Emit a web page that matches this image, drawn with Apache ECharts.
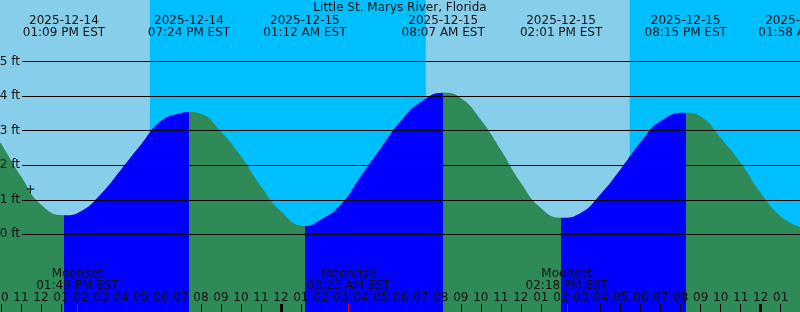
<!DOCTYPE html>
<html><head><meta charset="utf-8">
<script src="https://cdn.jsdelivr.net/npm/echarts@6/dist/echarts.min.js"></script>
<style>html,body{margin:0;padding:0;background:#87CEEB}#c{width:800px;height:312px}</style>
</head><body><div id="c"></div>
<script>
const TITLE = 'Little St. Marys River, Florida';
const curveTimes = [
 '2025-12-14 09:57','2025-12-14 10:00','2025-12-14 11:00','2025-12-14 12:00','2025-12-14 13:09',
 '2025-12-14 14:00','2025-12-14 15:00','2025-12-14 16:00','2025-12-14 17:00','2025-12-14 18:00','2025-12-14 19:00',
 '2025-12-14 19:24','2025-12-14 20:00','2025-12-14 21:00','2025-12-14 22:00','2025-12-14 23:00','2025-12-15 00:00',
 '2025-12-15 01:12','2025-12-15 02:00','2025-12-15 03:00','2025-12-15 04:00','2025-12-15 05:00',
 '2025-12-15 06:00','2025-12-15 07:00','2025-12-15 08:07','2025-12-15 09:00','2025-12-15 10:00',
 '2025-12-15 11:00','2025-12-15 12:00','2025-12-15 13:00','2025-12-15 14:01','2025-12-15 15:00','2025-12-15 16:00',
 '2025-12-15 17:00','2025-12-15 18:00','2025-12-15 19:00','2025-12-15 20:15','2025-12-15 21:00',
 '2025-12-15 22:00','2025-12-15 23:00','2025-12-16 00:00','2025-12-16 01:00','2025-12-16 01:58'];
const curveFeet = [
 2.65, 2.63, 1.68, 0.86, 0.55,
 0.67, 1.17, 1.87, 2.60, 3.28, 3.51,
 3.54, 3.49, 2.97, 2.26, 1.39, 0.67,
 0.24, 0.42, 0.86, 1.68, 2.50,
 3.28, 3.83, 4.10, 3.95, 3.32,
 2.45, 1.49, 0.76, 0.48, 0.62, 1.17,
 1.89, 2.67, 3.28, 3.52, 3.41,
 2.79, 2.07, 1.20, 0.52, 0.20];
const extremeTimes = ['2025-12-14 13:09','2025-12-14 19:24','2025-12-15 01:12','2025-12-15 08:07','2025-12-15 14:01','2025-12-15 20:15','2025-12-16 01:58'];
const extremeKinds = ['low','high','low','high','low','high','low'];
const nightStarts = ['2025-12-14 17:27','2025-12-15 17:27'];
const nightEnds   = ['2025-12-15 07:15','2025-12-16 01:58'];
const moonTimes = ['2025-12-14 13:49','2025-12-15 03:23','2025-12-15 14:18'];
const moonEvents = ['Moonset','Moonrise','Moonset'];
const midnights = ['2025-12-15 00:00','2025-12-16 00:00'];
const hourTicks = [
 '2025-12-14 10:00','2025-12-14 11:00','2025-12-14 12:00','2025-12-14 13:00','2025-12-14 14:00','2025-12-14 15:00','2025-12-14 16:00',
 '2025-12-14 17:00','2025-12-14 18:00','2025-12-14 19:00','2025-12-14 20:00','2025-12-14 21:00','2025-12-14 22:00','2025-12-14 23:00',
 '2025-12-15 00:00','2025-12-15 01:00','2025-12-15 02:00','2025-12-15 03:00','2025-12-15 04:00','2025-12-15 05:00','2025-12-15 06:00',
 '2025-12-15 07:00','2025-12-15 08:00','2025-12-15 09:00','2025-12-15 10:00','2025-12-15 11:00','2025-12-15 12:00','2025-12-15 13:00',
 '2025-12-15 14:00','2025-12-15 15:00','2025-12-15 16:00','2025-12-15 17:00','2025-12-15 18:00','2025-12-15 19:00','2025-12-15 20:00',
 '2025-12-15 21:00','2025-12-15 22:00','2025-12-15 23:00','2025-12-16 00:00','2025-12-16 01:00'];
const feetTicks = [0, 1, 2, 3, 4, 5];
const nowTime = '2025-12-14 11:28';
const nowFeet = 1.31;
const X_MIN = '2025-12-14 09:57', X_MAX = '2025-12-16 01:58';
const Y_MIN = -2.251, Y_MAX = 6.787;

const FONT = 'DejaVu Sans';
const TXT = '#111';
const GREEN = '#2E8B57', BLUE = '#0000FF', NIGHT = '#00BFFF', DAY = '#87CEEB';

function ms(s){const [d,t]=s.split(' ');const [Y,M,D]=d.split('-').map(Number);const [h,m]=t.split(':').map(Number);return Date.UTC(Y,M-1,D,h,m);}
const p2 = n => (n<10?'0':'')+n;
function hh12(v){const d=new Date(v);const h=d.getUTCHours()%12||12;return p2(h);}
function timeLbl(v){const d=new Date(v);const h=d.getUTCHours();return p2(h%12||12)+':'+p2(d.getUTCMinutes())+(h<12?' AM':' PM')+' EST';}
function dateLbl(v){const d=new Date(v);return d.getUTCFullYear()+'-'+p2(d.getUTCMonth()+1)+'-'+p2(d.getUTCDate());}

const xmin = ms(X_MIN), xmax = ms(X_MAX);
const ext = extremeTimes.map(ms);
const pieces = [{lt: ext[0], color: extremeKinds[0]==='low' ? GREEN : BLUE}];
for (let i=0;i<ext.length;i++){
  const p = {gte: ext[i], color: extremeKinds[i]==='low' ? BLUE : GREEN};
  if (i+1<ext.length) p.lt = ext[i+1];
  pieces.push(p);
}
const moonMs = moonTimes.map(ms);
const txt = {fontFamily: FONT, fontSize: 12, color: TXT};
const baseX = {type:'value', min:xmin, max:xmax, gridIndex:0, z:10, splitLine:{show:false},
  axisLine:{show:false, onZero:false}};

const option = {
  animation:false,
  backgroundColor: DAY,
  title:{text:TITLE, left:'center', top:2, padding:0, textStyle:Object.assign({fontWeight:'normal'}, txt)},
  grid:[{left:0,right:0,top:0,bottom:0,outerBoundsMode:'none',containLabel:false},
        {left:22,right:0,top:0,bottom:0,outerBoundsMode:'none',containLabel:false}],
  xAxis:[
    Object.assign({}, baseX, {position:'bottom',
      axisTick:{show:true, inside:true, length:8, customValues:hourTicks.map(ms), lineStyle:{color:'#000', width:1}},
      axisLabel:Object.assign({inside:true, margin:8, customValues:hourTicks.map(ms), formatter:hh12}, txt)}),
    Object.assign({}, baseX, {position:'bottom', z:11,
      axisTick:{show:true, inside:true, length:8, customValues:midnights.map(ms), lineStyle:{color:'#000', width:3}},
      axisLabel:{show:false}}),
    Object.assign({}, baseX, {position:'bottom', z:12,
      axisTick:{show:true, inside:true, length:8, customValues:moonMs, lineStyle:{color:'#ff0000', width:1}},
      axisLabel:Object.assign({inside:true, margin:20, lineHeight:12, customValues:moonMs,
        formatter:v=>moonEvents[moonMs.indexOf(v)]+'\n'+timeLbl(v)}, txt)}),
    Object.assign({}, baseX, {position:'top',
      axisTick:{show:false, customValues:ext},
      axisLabel:Object.assign({inside:true, margin:15, lineHeight:12, customValues:ext,
        formatter:v=>dateLbl(v)+'\n'+timeLbl(v)}, txt)}),
    {type:'value', gridIndex:1, show:false, min:xmin, max:xmax, axisLine:{onZero:false}}
  ],
  yAxis:[
    {type:'value', gridIndex:0, min:Y_MIN, max:Y_MAX, show:false},
    {type:'value', gridIndex:1, min:Y_MIN, max:Y_MAX, z:10, position:'left',
      axisLine:{show:false, onZero:false},
      axisTick:{show:false, customValues:feetTicks},
      axisLabel:Object.assign({customValues:feetTicks, margin:2, formatter:v=>v+' ft'}, txt),
      splitLine:{show:true, lineStyle:{color:'#000', width:1}}}
  ],
  visualMap:{type:'piecewise', show:false, dimension:0, seriesIndex:1, pieces},
  series:[
    {type:'line', xAxisIndex:0, yAxisIndex:0, z:1, data:[], silent:true,
      markArea:{silent:true, itemStyle:{color:NIGHT}, data: nightStarts.map((s,i)=>[{xAxis:ms(s)},{xAxis:ms(nightEnds[i])}])}},
    {type:'line', xAxisIndex:0, yAxisIndex:0, z:2, smooth:0.5, symbol:'none', silent:true,
      lineStyle:{width:0, opacity:0}, areaStyle:{opacity:1, origin:'start'},
      data: curveTimes.map((t,i)=>[ms(t), curveFeet[i]])},
    {type:'scatter', xAxisIndex:0, yAxisIndex:0, z:12, silent:true,
      symbol:'path://M0,4L8,4M4,0L4,8', symbolSize:8,
      itemStyle:{color:'none', borderColor:'#000', borderWidth:1, opacity:1},
      data:[[ms(nowTime), nowFeet]]}
  ]
};
const chart = echarts.init(document.getElementById('c'), null, {renderer:'canvas'});
chart.setOption(option);
</script></body></html>
